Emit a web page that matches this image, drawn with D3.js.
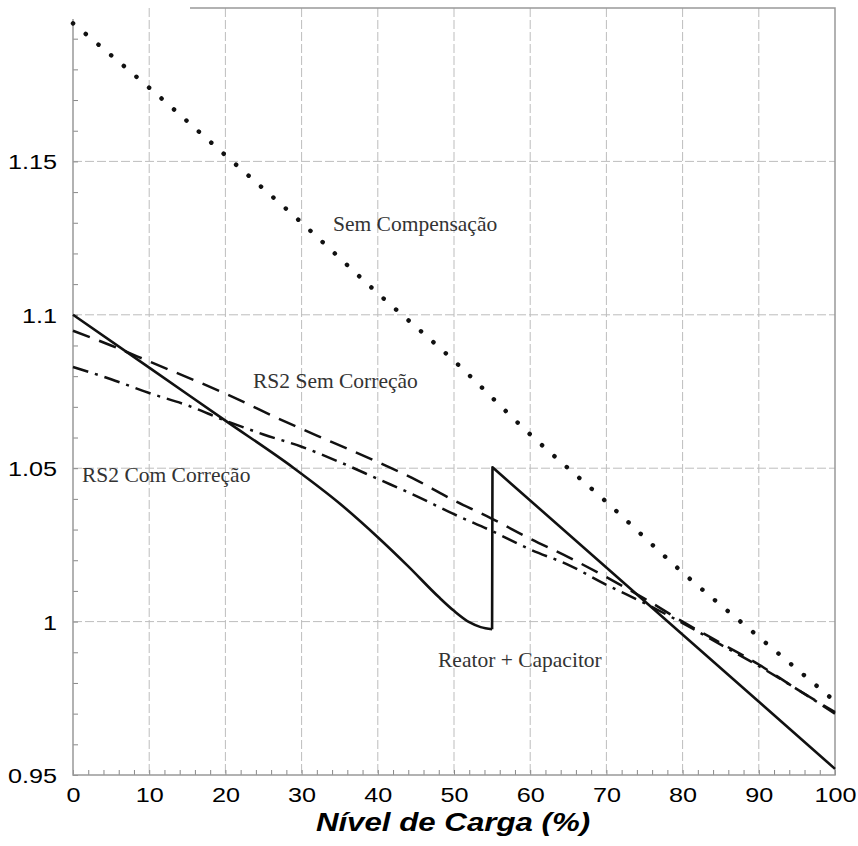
<!DOCTYPE html>
<html>
<head>
<meta charset="utf-8">
<script src="https://cdn.jsdelivr.net/npm/d3@7"></script>
<style>
  body { margin: 0; background: #fff; }
  svg { display: block; }
</style>
</head>
<body>
<div id="chart"></div>
<script>
// values (x = load level %, y = voltage pu)
const xTicks = [0, 10, 20, 30, 40, 50, 60, 70, 80, 90, 100];
const yTicks = [0.95, 1, 1.05, 1.1, 1.15];

const semCompX = [0, 10, 20, 30, 40, 50, 60, 70, 80, 90, 100];
const semCompY = [1.195, 1.174, 1.152, 1.130, 1.107, 1.085, 1.061, 1.039, 1.016, 0.995, 0.974];

const rs2SemX = [0, 5, 10, 20, 28, 34, 40, 45, 50, 55, 60, 65, 70, 75, 80, 85, 90, 95, 100];
const rs2SemY = [1.0948, 1.090, 1.0848, 1.0743, 1.065, 1.0585, 1.052, 1.0462, 1.0395, 1.0335, 1.027, 1.021, 1.0145, 1.0075, 1.0, 0.993, 0.986, 0.978, 0.9705];

const rs2ComX = [0, 5, 10, 15, 20, 25, 30, 35, 40, 45, 50, 55, 60, 65, 70, 75, 80, 85, 90, 95, 100];
const rs2ComY = [1.083, 1.079, 1.0745, 1.0705, 1.0655, 1.061, 1.057, 1.052, 1.0465, 1.041, 1.035, 1.0295, 1.0235, 1.0185, 1.012, 1.006, 0.9995, 0.9925, 0.9855, 0.978, 0.970];

// reactor + capacitor: smooth fall to the switching point, then a jump and a straight fall
const reatorX = [0, 10, 20, 29, 35, 40, 44, 48, 50, 52, 53.5, 55, 55.05, 100];
const reatorY = [1.100, 1.0828, 1.0655, 1.050, 1.0385, 1.0275, 1.018, 1.008, 1.0035, 0.9998, 0.9982, 0.9975, 1.0503, 0.952];
const switchIndex = 11; // last point before the jump

const labels = [
  { text: "Sem Compensação", x: 333, y: 231 },
  { text: "RS2 Sem Correção", x: 253, y: 388 },
  { text: "RS2 Com Correção", x: 82, y: 482 },
  { text: "Reator + Capacitor", x: 438, y: 667 }
];

const width = 858, height = 846;
const mLeft = 73, mRight = 835, mTop = 8, mBottom = 775;
const stretch = 1.2; // tick text in the picture is wider than it is tall

const svg = d3.select("#chart").append("svg")
  .attr("width", width)
  .attr("height", height);

const x = d3.scaleLinear().domain([0, 100]).range([mLeft, mRight]);
const y = d3.scaleLinear().domain([0.95, 1.2]).range([mBottom, mTop]);

// grid
const grid = svg.append("g")
  .attr("stroke", "#bdbdbd")
  .attr("stroke-width", 1)
  .attr("stroke-dasharray", "9 3");
grid.selectAll(".vg").data(xTicks.slice(1, -1)).enter().append("line")
  .attr("x1", d => x(d)).attr("x2", d => x(d))
  .attr("y1", mTop).attr("y2", mBottom);
grid.selectAll(".hg").data(yTicks.slice(1)).enter().append("line")
  .attr("x1", mLeft).attr("x2", mRight)
  .attr("y1", d => y(d)).attr("y2", d => y(d));

// minor ticks (inward)
svg.append("g")
  .attr("transform", `translate(${mLeft},0)`)
  .call(d3.axisLeft(y).tickValues(d3.range(0.95, 1.2, 0.01)).tickSize(-5).tickFormat(""))
  .call(g => g.select(".domain").remove())
  .selectAll("line").attr("stroke", "#888");
svg.append("g")
  .attr("transform", `translate(0,${mBottom})`)
  .call(d3.axisBottom(x).tickValues(d3.range(0, 101, 2)).tickSize(-5).tickFormat(""))
  .call(g => g.select(".domain").remove())
  .selectAll("line").attr("stroke", "#888");

// frame (top edge is cut off at the left in the picture)
svg.append("path")
  .attr("d", `M${mLeft},19 V${mBottom} H${mRight} V${mTop} H190`)
  .attr("fill", "none")
  .attr("stroke", "#999")
  .attr("stroke-width", 1.5);

// tick labels
const yAxis = svg.append("g")
  .attr("transform", `translate(${mLeft},0)`)
  .call(d3.axisLeft(y).tickValues(yTicks).tickSize(0).tickFormat(d => String(d)));
yAxis.select(".domain").remove();
yAxis.selectAll("text")
  .attr("x", null).attr("dy", null)
  .attr("transform", `translate(-16,7.5) scale(${stretch},1)`)
  .attr("font-family", "Liberation Sans, Arial, sans-serif")
  .attr("font-size", 21)
  .attr("fill", "#000");

const xAxis = svg.append("g")
  .attr("transform", `translate(0,${mBottom})`)
  .call(d3.axisBottom(x).tickValues(xTicks).tickSize(0).tickFormat(d => String(d)));
xAxis.select(".domain").remove();
xAxis.selectAll("text")
  .attr("y", null).attr("dy", null)
  .attr("transform", `translate(0,27) scale(${stretch},1)`)
  .attr("font-family", "Liberation Sans, Arial, sans-serif")
  .attr("font-size", 21)
  .attr("fill", "#000");

svg.append("text")
  .attr("transform", `translate(${(mLeft + mRight) / 2 - 1},831) scale(1.25,1)`)
  .attr("text-anchor", "middle")
  .attr("font-family", "Liberation Sans, Arial, sans-serif")
  .attr("font-size", 25)
  .attr("font-weight", "bold")
  .attr("font-style", "italic")
  .text("Nível de Carga (%)");

// curves
const smooth = d3.line().x(d => x(d[0])).y(d => y(d[1])).curve(d3.curveMonotoneX);
const straight = d3.line().x(d => x(d[0])).y(d => y(d[1]));
const pts = (xs, ys) => xs.map((v, i) => [v, ys[i]]);
const reatorPts = pts(reatorX, reatorY);

const series = [
  { d: smooth(pts(semCompX, semCompY)), dash: "0.1 16.5", cap: "round", w: 4.5 },
  { d: smooth(pts(rs2SemX, rs2SemY)), dash: "18 10", cap: "butt", w: 2.5 },
  { d: smooth(pts(rs2ComX, rs2ComY)), dash: "16 7 3 7", cap: "butt", w: 2.5 },
  { d: smooth(reatorPts.slice(0, switchIndex + 1)), dash: null, cap: "butt", w: 2.6 },
  { d: straight(reatorPts.slice(switchIndex)), dash: null, cap: "butt", w: 2.6 }
];

svg.append("g").selectAll("path").data(series).enter().append("path")
  .attr("d", s => s.d)
  .attr("fill", "none")
  .attr("stroke", "#111")
  .attr("stroke-width", s => s.w)
  .attr("stroke-linecap", s => s.cap)
  .attr("stroke-linejoin", "round")
  .attr("stroke-dasharray", s => s.dash);

// in-plot labels
svg.append("g").selectAll("text").data(labels).enter().append("text")
  .attr("x", d => d.x).attr("y", d => d.y)
  .attr("font-family", "Liberation Serif, Times New Roman, serif")
  .attr("font-size", 21.5)
  .attr("fill", "#333")
  .text(d => d.text);
</script>
</body>
</html>
